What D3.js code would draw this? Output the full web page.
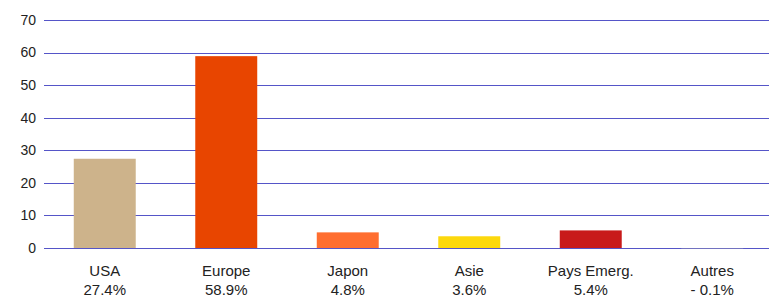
<!DOCTYPE html>
<html>
<head>
<meta charset="utf-8">
<script src="https://cdn.jsdelivr.net/npm/d3@7"></script>
<style>
  html, body { margin: 0; padding: 0; background: #fff; }
  svg { display: block; }
  text { font-family: "Liberation Sans", Arial, sans-serif; fill: #222; }
</style>
</head>
<body>
<div id="chart"></div>
<script>
const categories = ["USA", "Europe", "Japon", "Asie", "Pays Emerg.", "Autres"];
const pctLabels = ["27.4%", "58.9%", "4.8%", "3.6%", "5.4%", "- 0.1%"];
const values = [27.4, 58.9, 4.8, 3.6, 5.4, -0.1];
const colors = ["#cdb38b", "#e84500", "#ff6e30", "#fcd80c", "#c81a1a", "#b0b0b0"];
const yTicks = [0, 10, 20, 30, 40, 50, 60, 70];

const W = 769, H = 298;
const svg = d3.select("#chart").append("svg").attr("width", W).attr("height", H);

const x = d3.scaleBand().domain(categories).range([44, 773])
  .paddingInner(0.49).paddingOuter(0.245);
const y = d3.scaleLinear().domain([0, 70]).range([248, 20]);

// grid lines
svg.append("g").selectAll("line").data(yTicks).join("line")
  .attr("x1", 44).attr("x2", W)
  .attr("y1", d => Math.round(y(d)) + 0.5).attr("y2", d => Math.round(y(d)) + 0.5)
  .attr("stroke", "#5555c8").attr("stroke-width", 1);

// y tick labels
svg.append("g").selectAll("text").data(yTicks).join("text")
  .attr("x", 36).attr("y", d => y(d)).attr("dy", "0.35em")
  .attr("text-anchor", "end").attr("font-size", 14).text(d => d);

// bars
svg.append("g").selectAll("rect").data(values).join("rect")
  .attr("x", (d, i) => x(categories[i]))
  .attr("width", x.bandwidth())
  .attr("y", d => y(Math.max(0, d)))
  .attr("height", d => Math.abs(y(d) - y(0)))
  .attr("fill", (d, i) => colors[i]);

// category labels
const lab = svg.append("g");
lab.selectAll("text.cat").data(categories).join("text").attr("class", "cat")
  .attr("x", d => x(d) + x.bandwidth() / 2).attr("y", 276)
  .attr("text-anchor", "middle").attr("font-size", 15).text(d => d);
lab.selectAll("text.pct").data(pctLabels).join("text").attr("class", "pct")
  .attr("x", (d, i) => x(categories[i]) + x.bandwidth() / 2).attr("y", 295)
  .attr("text-anchor", "middle").attr("font-size", 15).text(d => d);
</script>
</body>
</html>
